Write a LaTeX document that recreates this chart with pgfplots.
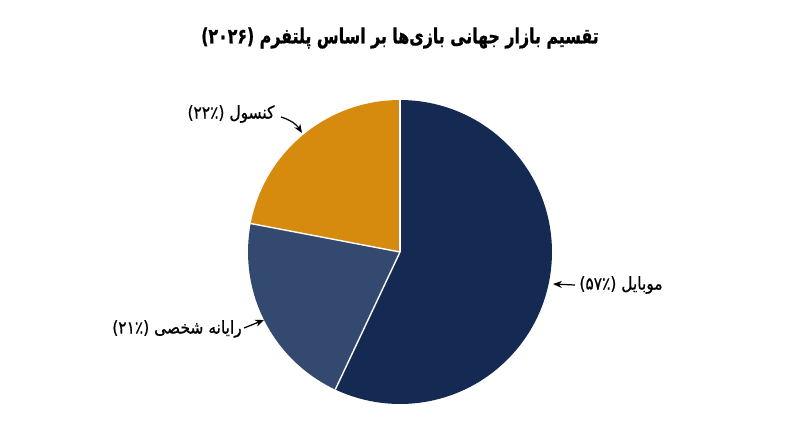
\documentclass[border=0pt]{standalone}
\usepackage{pgfplots}
\pgfplotsset{compat=1.18}
\usepackage{pgfplotstable}
\usepackage{fontspec}
\usetikzlibrary{arrows.meta}
\TeXXeTstate=1
\newfontfamily\arabictitle[Script=Arabic,FakeStretch=0.75,FakeBold=0.8]{DejaVu Sans Bold}
\newfontfamily\arabiclabel[Script=Arabic,FakeStretch=0.88,FakeBold=0.7]{DejaVu Sans}
\definecolor{cMobile}{RGB}{20,42,82}
\definecolor{cPC}{RGB}{52,73,111}
\definecolor{cConsole}{RGB}{214,139,14}
\pgfplotstableread{
share
57
21
22
}\piedata
\begin{document}
\begin{tikzpicture}
\pgfplotstablegetelem{0}{share}\of\piedata \let\vA\pgfplotsretval
\pgfplotstablegetelem{1}{share}\of\piedata \let\vB\pgfplotsretval
\pgfplotstablegetelem{2}{share}\of\piedata \let\vC\pgfplotsretval
\pgfmathsetmacro{\aA}{90-3.6*\vA}
\pgfmathsetmacro{\aB}{\aA-3.6*\vB}
\pgfmathsetmacro{\aC}{\aB-3.6*\vC}
\begin{axis}[
  x=0.02cm, y=0.02cm,
  xmin=0, xmax=800, ymin=0, ymax=447,
  hide axis, clip=false,
]
\path (axis cs:0,0) rectangle (axis cs:800,447);
% slices
\fill[cMobile] (axis cs:400,195) -- ++(90:3.04cm) arc[start angle=90, end angle=\aA, radius=3.04cm] -- cycle;
\fill[cPC] (axis cs:400,195) -- ++(\aA:3.04cm) arc[start angle=\aA, end angle=\aB, radius=3.04cm] -- cycle;
\fill[cConsole] (axis cs:400,195) -- ++(\aB:3.04cm) arc[start angle=\aB, end angle=\aC, radius=3.04cm] -- cycle;
\draw[white, line width=0.8pt] (axis cs:400,195) -- ++(90:3.04cm);
\draw[white, line width=0.8pt] (axis cs:400,195) -- ++(\aA:3.04cm);
\draw[white, line width=0.8pt] (axis cs:400,195) -- ++(\aB:3.04cm);
% title
\node[font=\arabictitle\fontsize{12}{14}\selectfont] at (axis cs:400,409) {\beginR تقسیم بازار جهانی بازی‌ها بر اساس پلتفرم (۲۰۲۶)\endR};
% labels
\node[font=\arabiclabel\fontsize{10}{12}\selectfont] at (axis cs:621,162) {\beginR موبایل (۵۷٪)\endR};
\node[font=\arabiclabel\fontsize{10}{12}\selectfont] at (axis cs:231,333) {\beginR کنسول (۲۲٪)\endR};
\node[font=\arabiclabel\fontsize{10}{12}\selectfont] at (axis cs:177,118) {\beginR رایانه شخصی (۲۱٪)\endR};
% arrows
\draw[-{Stealth[length=5pt,width=4pt]}, line width=0.7pt] (axis cs:575,162) -- (axis cs:553,163);
\draw[-{Stealth[length=5pt,width=4pt]}, line width=0.7pt] (axis cs:281,330) to[bend left=20] (axis cs:302,314);
\draw[-{Stealth[length=5pt,width=4pt]}, line width=0.7pt] (axis cs:244,119) -- (axis cs:264,127);
\end{axis}
\end{tikzpicture}
\end{document}
